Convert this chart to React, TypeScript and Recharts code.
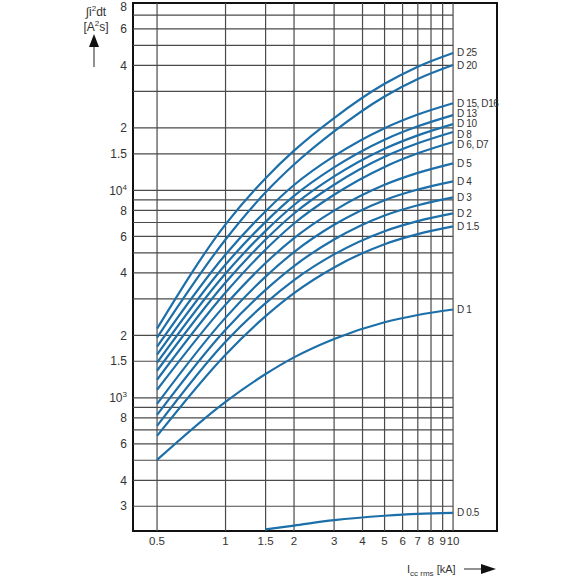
import React from 'react';
import { LineChart, Line, XAxis, YAxis, ReferenceLine, ReferenceArea } from 'recharts';

// current in kA where the curves are read
const xValues = [0.5, 1, 1.5, 2, 3, 5, 7, 10];

// let-through energy in A²s, one list per breaker rating
const d25 = [2154, 6850, 11450, 15530, 22300, 32620, 39460, 45950];
const d20 = [1949, 5798, 9780, 13320, 19250, 28350, 34410, 40170];
const d15 = [1764, 4908, 7934, 10610, 14620, 19930, 23190, 26290];
const d13 = [1614, 4390, 7050, 9395, 12900, 17540, 20350, 23060];
const d10 = [1476, 3972, 6378, 8500, 11670, 15870, 18410, 20860];
const d8 = [1350, 3593, 5791, 7734, 10640, 14510, 16850, 19100];
const d6 = [1222, 3215, 5182, 6920, 9522, 12970, 15080, 17100];
const d5 = [1093, 2813, 4464, 5883, 7990, 10640, 12140, 13500];
const d4 = [935, 2435, 3838, 5040, 6821, 8968, 10090, 11050];
const d3 = [828, 2131, 3314, 4318, 5791, 7557, 8472, 9251];
const d2 = [732, 1864, 2861, 3694, 4912, 6357, 7108, 7743];
const d15a = [655, 1614, 2475, 3197, 4251, 5502, 6150, 6700];
const d1 = [502, 957, 1302, 1566, 1921, 2313, 2506, 2665];

const d05X = [1.5, 2, 3, 5, 7, 10];
const d05 = [232, 242, 257, 270, 276, 279];

const seriesNames = ['D 25', 'D 20', 'D 15, D16', 'D 13', 'D 10', 'D 8', 'D 6, D7', 'D 5', 'D 4', 'D 3', 'D 2', 'D 1.5', 'D 1'];
// small vertical nudges so the crowded end labels stay apart
const labelNudge = [0, 0, 0, -2, -0.5, 2, 2, 0, 0, 0, 0, 0, 0, 0];

const xTicks = [0.5, 1, 1.5, 2, 3, 4, 5, 6, 7, 8, 9, 10];
const yTicks = [300, 400, 600, 800, 1000, 1500, 2000, 4000, 6000, 8000, 10000, 15000, 20000, 40000, 60000, 80000];
const yTickLabels = ['3', '4', '6', '8', '10^3', '1.5', '2', '4', '6', '8', '10^4', '1.5', '2', '4', '6', '8'];
const yGrid = [300, 400, 500, 600, 700, 800, 900, 1000, 1500, 2000, 3000, 4000, 5000, 6000, 7000, 8000, 9000, 10000, 15000, 20000, 30000, 40000, 50000, 60000, 70000];

const X_MIN = 0.392;
const X_MAX = 15.6;
const Y_MIN = 228;
const Y_MAX = 80000;

const FONT = "'Liberation Sans Narrow', 'Liberation Sans', sans-serif";
const BLUE = '#1d6fa9';
const GRID = '#4a4a4a';
const TEXT = '#333';

const curves = [d25, d20, d15, d13, d10, d8, d6, d5, d4, d3, d2, d15a, d1].map((vals, i) => ({
  name: seriesNames[i],
  points: vals.map((v, j) => ({ x: xValues[j], y: v })),
}));
curves.push({ name: 'D 0.5', points: d05.map((v, j) => ({ x: d05X[j], y: v })) });

const endLabel = (name: string, lastIndex: number, nudge: number) => (props: any) => {
  if (props.index !== lastIndex) return <g key={`l-${props.index}`} />;
  return (
    <text
      key={`l-${props.index}`}
      x={props.x + 4}
      y={props.y + nudge}
      dy="0.35em"
      fontSize={10}
      letterSpacing={-0.4}
      fill={TEXT}
      fontFamily={FONT}
    >
      {name}
    </text>
  );
};

const YTick = (props: any) => {
  const { x, y, payload } = props;
  const label = yTickLabels[yTicks.indexOf(payload.value)] ?? '';
  const [base, exp] = label.split('^');
  const ty = y < 8 ? y + 4 : y;
  return (
    <text x={x} y={ty} dy="0.35em" textAnchor="end" fontSize={12} fill={TEXT} fontFamily={FONT}>
      {base}
      {exp && (
        <tspan dy={-5} fontSize={8}>
          {exp}
        </tspan>
      )}
    </text>
  );
};

export default function App() {
  return (
    <div style={{ position: 'absolute', left: 0, top: 0, width: 580, height: 580, background: '#fff' }}>
      <LineChart width={580} height={580} margin={{ top: 3, right: 83, bottom: 0, left: 0 }}>
        <XAxis
          type="number"
          dataKey="x"
          scale="log"
          domain={[X_MIN, X_MAX]}
          allowDataOverflow
          ticks={xTicks}
          interval={0}
          axisLine={false}
          tickLine={false}
          tickSize={4}
          tickMargin={2}
          height={49}
          tick={{ fontSize: 11.5, fill: TEXT, fontFamily: FONT }}
        />
        <YAxis
          type="number"
          dataKey="y"
          scale="log"
          domain={[Y_MIN, Y_MAX]}
          allowDataOverflow
          ticks={yTicks}
          interval={0}
          axisLine={false}
          tickLine={false}
          tickSize={4}
          tickMargin={2}
          width={133}
          tick={<YTick />}
        />
        {yGrid.map((v) => (
          <ReferenceLine
            key={`h-${v}`}
            segment={[{ x: X_MIN, y: v }, { x: 10, y: v }]}
            stroke={GRID}
            strokeWidth={1.2}
          />
        ))}
        {xTicks.map((v) => (
          <ReferenceLine key={`v-${v}`} x={v} stroke={GRID} strokeWidth={1.2} />
        ))}
        <ReferenceArea x1={X_MIN} x2={X_MAX} y1={Y_MIN} y2={Y_MAX} fill="none" fillOpacity={0} stroke="#111" strokeWidth={2} />
        {curves.map((c, i) => (
          <Line
            key={c.name}
            data={c.points}
            dataKey="y"
            type="monotone"
            stroke={BLUE}
            strokeWidth={2.2}
            dot={false}
            isAnimationActive={false}
            label={endLabel(c.name, c.points.length - 1, labelNudge[i])}
          />
        ))}
      </LineChart>
      <svg width={580} height={580} style={{ position: 'absolute', left: 0, top: 0, pointerEvents: 'none' }}>
        <text x={96} y={16} textAnchor="middle" fontSize={12} fill={TEXT} fontFamily={FONT}>
          ∫i<tspan dy={-5} fontSize={8}>2</tspan>
          <tspan dy={5}>dt</tspan>
        </text>
        <text x={96} y={31} textAnchor="middle" fontSize={12} fill={TEXT} fontFamily={FONT}>
          [A<tspan dy={-5} fontSize={8}>2</tspan>
          <tspan dy={5}>s]</tspan>
        </text>
        <line x1={94} y1={67} x2={94} y2={46} stroke="#555" strokeWidth={1.3} />
        <polygon points="89,47 99,47 94,34" fill="#111" />
        <text x={407} y={573} fontSize={11} fill={TEXT} fontFamily={FONT}>
          I<tspan dy={3} fontSize={8}>cc rms</tspan>
          <tspan dy={-3}> [kA]</tspan>
        </text>
        <line x1={464} y1={569} x2={483} y2={569} stroke="#555" strokeWidth={1.3} />
        <polygon points="481,564 481,574 496,569" fill="#111" />
      </svg>
    </div>
  );
}
